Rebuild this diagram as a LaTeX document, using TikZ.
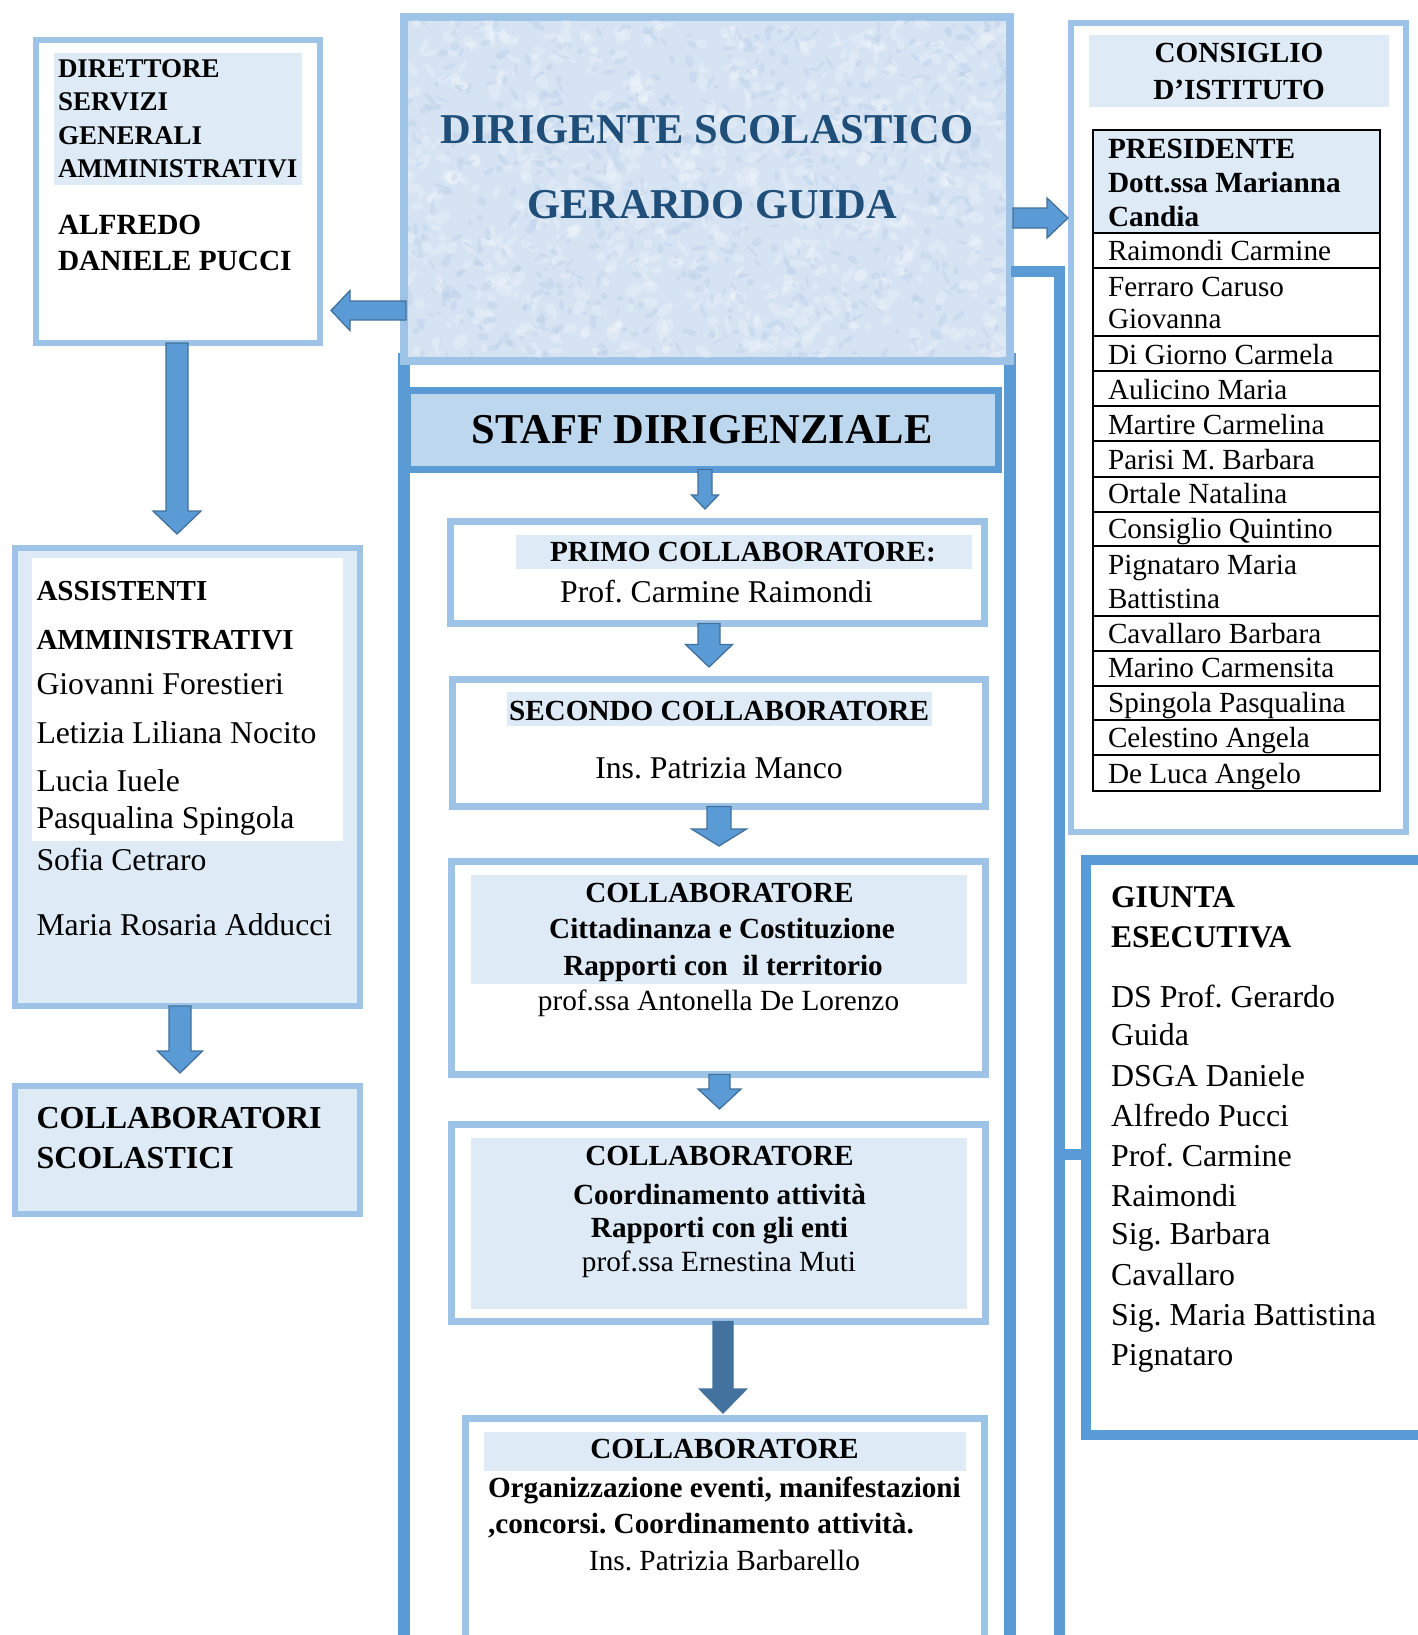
\documentclass[tikz,border=0pt]{standalone}
\usepackage{fontspec}
\setmainfont{Liberation Serif}
\usetikzlibrary{calc}
\frenchspacing
\definecolor{lborder}{HTML}{9DC3E6}
\definecolor{mblue}{HTML}{5B9BD5}
\definecolor{aedge}{HTML}{41719C}
\definecolor{lfill}{HTML}{DEEBF7}
\definecolor{hfill}{HTML}{BDD7EE}
\definecolor{dtext}{HTML}{1F4E79}
\definecolor{dfill}{HTML}{D5E3F3}
\definecolor{speck}{HTML}{B9CEE8}
\definecolor{darrow}{HTML}{44729E}
\newcommand\fsz[1]{\fontsize{#1}{#1}\selectfont}
% box node from path corners
\newcommand\bx[6][]{\node[box,#1,minimum width={#4-#2},minimum height={#5-#3}] (#6) at ({(#2+#4)/2},{(#3+#5)/2}) {};}
% text line nodes
\newcounter{tl}
\newcommand\tx[4][]{\stepcounter{tl}\node[txt,#1] (t\arabic{tl}) at (#2,#3) {#4};}
% block arrows: #2 start, #3 tip, #4 shaft half, #5 head half, #6 head length
\newcommand\varw[6][]{\path[barrow,#1] let \p1=#2, \p2=#3 in
 (\x2-#4,\y1) -- (\x2+#4,\y1) -- (\x2+#4,\y2+#6) -- (\x2+#5,\y2+#6) -- (\x2,\y2) -- (\x2-#5,\y2+#6) -- (\x2-#4,\y2+#6) -- cycle;}
\newcommand\larw[6][]{\path[barrow,#1] let \p1=#2, \p2=#3 in
 (\x1,\y2+#4) -- (\x2+#6,\y2+#4) -- (\x2+#6,\y2+#5) -- (\x2,\y2) -- (\x2+#6,\y2-#5) -- (\x2+#6,\y2-#4) -- (\x1,\y2-#4) -- cycle;}
\newcommand\rarw[6][]{\path[barrow,#1] let \p1=#2, \p2=#3 in
 (\x1,\y2+#4) -- (\x2-#6,\y2+#4) -- (\x2-#6,\y2+#5) -- (\x2,\y2) -- (\x2-#6,\y2-#5) -- (\x2-#6,\y2-#4) -- (\x1,\y2-#4) -- cycle;}
\begin{document}
\begin{tikzpicture}[x=1pt,y=-1pt,
  box/.style={draw,inner sep=0pt,outer sep=0pt},
  lbox/.style={draw=lborder,line width=6pt},
  cbox/.style={draw=lborder,line width=7pt,fill=white},
  txt/.style={inner sep=0pt,outer sep=0pt,anchor=base west},
  ctr/.style={anchor=base},
  barrow/.style={fill=mblue,draw=aedge,line width=1.3pt,line join=miter},
  darr/.style={fill=darrow,draw=darrow},
  conn/.style={draw=mblue,line width=11pt,line join=miter},
  tline/.style={draw=black,line width=2pt},
  hb/.style={font=\bfseries\fsz{29.2}},
  hr/.style={font=\fsz{31.7}},
  hs/.style={font=\fsz{29.3}},
  nm/.style={font=\fsz{29.2}},
  an/.style={font=\fsz{31.7}},
  gn/.style={font=\fsz{31.9}}]
\useasboundingbox (0,0) rectangle (1418,1635);
\fill[white] (0,0) rectangle (1418,1635);

% ---------- staff frame (open at the bottom) ----------
\bx[draw=mblue,line width=11.5pt]{404}{359}{1010}{1720}{staff}

% ---------- Dirigente ----------
\bx[draw=lborder,line width=8pt,fill=dfill]{404}{17}{1010}{361}{dir}
\begin{scope}
\clip (408,21) rectangle (1006,357);
\pgfmathsetseed{42}
\foreach \i in {1,...,700}{\pgfmathsetmacro\rx{408+598*rnd}\pgfmathsetmacro\ry{21+336*rnd}\pgfmathsetmacro\ra{3+7*rnd}\pgfmathsetmacro\rb{2+4*rnd}\pgfmathsetmacro\rt{180*rnd}\fill[white,opacity=0.22,rotate around={\rt:(\rx,\ry)}] (\rx,\ry) ellipse [x radius=\ra, y radius=\rb];}
\foreach \i in {1,...,700}{\pgfmathsetmacro\rx{408+598*rnd}\pgfmathsetmacro\ry{21+336*rnd}\pgfmathsetmacro\ra{2+6*rnd}\pgfmathsetmacro\rb{1+3*rnd}\pgfmathsetmacro\rt{180*rnd}\fill[speck,opacity=0.35,rotate around={\rt:(\rx,\ry)}] (\rx,\ry) ellipse [x radius=\ra, y radius=\rb];}
\end{scope}
\tx[ctr,text=dtext,font=\bfseries\fsz{42.5}]{707}{143}{DIRIGENTE SCOLASTICO}
\tx[ctr,text=dtext,font=\bfseries\fsz{42.5}]{712}{218}{GERARDO GUIDA}

% ---------- DSGA ----------
\bx[lbox,fill=white]{36}{40.5}{320}{343}{dsga}
\fill[lfill] (54,53) rectangle (302,185);
\tx[font=\bfseries\fsz{27}]{58}{78}{DIRETTORE}
\tx[font=\bfseries\fsz{27}]{58}{111}{SERVIZI}
\tx[font=\bfseries\fsz{27}]{58}{144}{GENERALI}
\tx[font=\bfseries\fsz{27}]{58}{177}{AMMINISTRATIVI}
\tx[font=\bfseries\fsz{29.3}]{58}{234}{ALFREDO}
\tx[font=\bfseries\fsz{29.3}]{58}{270}{DANIELE PUCCI}

% ---------- Assistenti ----------
\bx[lbox,fill=lfill]{15}{548}{360}{1006}{assist}
\fill[white] (32,558) rectangle (343,841);
\tx[font=\bfseries\fsz{29}]{36.5}{600}{ASSISTENTI}
\tx[font=\bfseries\fsz{29}]{36.5}{649}{AMMINISTRATIVI}
\tx[an]{36.5}{694}{Giovanni Forestieri}
\tx[an]{36.5}{743}{Letizia Liliana Nocito}
\tx[an]{36.5}{791}{Lucia Iuele}
\tx[an]{36.5}{828}{Pasqualina Spingola}
\tx[an]{36.5}{870}{Sofia Cetraro}
\tx[an]{36.5}{935}{Maria Rosaria Adducci}

% ---------- Collaboratori scolastici ----------
\bx[lbox,fill=lfill]{15}{1086}{360}{1214}{collsc}
\tx[font=\bfseries\fsz{32}]{36.5}{1128}{COLLABORATORI}
\tx[font=\bfseries\fsz{32}]{36.5}{1168}{SCOLASTICI}

% ---------- Staff header ----------
\bx[draw=mblue,line width=7pt,fill=hfill]{407.5}{390.5}{998.5}{469.5}{hdr}
\tx[ctr,font=\bfseries\fsz{42.5}]{702}{443}{STAFF DIRIGENZIALE}

% ---------- Collaboratori staff ----------
\bx[cbox]{450.5}{521}{984.5}{623.5}{primo}
\fill[lfill] (516,535) rectangle (972,569);
\tx[ctr,hb]{743}{561.5}{PRIMO COLLABORATORE:}
\tx[ctr,hr]{716.5}{602}{Prof. Carmine Raimondi}

\bx[cbox]{452}{679.5}{985.5}{806.5}{sec}
\fill[lfill] (506.5,692) rectangle (932,726);
\tx[ctr,hb]{719}{720}{SECONDO COLLABORATORE}
\tx[ctr,hr]{719}{778.5}{Ins. Patrizia Manco}

\bx[cbox]{451.5}{861.5}{985.5}{1074.5}{c3}
\fill[lfill] (470.6,875) rectangle (967,984);
\tx[ctr,hb]{719.5}{902}{COLLABORATORE}
\tx[ctr,hb]{722}{938.5}{Cittadinanza e Costituzione}
\tx[ctr,hb]{723}{975}{Rapporti con~ il territorio}
\tx[ctr,hs]{718.5}{1010}{prof.ssa Antonella De Lorenzo}

\bx[cbox]{451.5}{1124}{985.5}{1321.5}{c4}
\fill[lfill] (470.6,1138) rectangle (967,1308.6);
\tx[ctr,hb]{719.5}{1165.6}{COLLABORATORE}
\tx[ctr,hb]{719.5}{1204}{Coordinamento attività}
\tx[ctr,hb]{719.5}{1237}{Rapporti con gli enti}
\tx[ctr,hs]{719}{1271}{prof.ssa Ernestina Muti}

\bx[cbox]{465}{1418}{984.5}{1720}{c5}
\fill[lfill] (484,1431.5) rectangle (966,1470.7);
\tx[ctr,hb]{724.5}{1458.6}{COLLABORATORE}
\tx[hb]{488}{1497.5}{Organizzazione eventi, manifestazioni}
\tx[hb]{488}{1533}{,concorsi. Coordinamento attività.}
\tx[ctr,hs]{724.5}{1570.5}{Ins. Patrizia Barbarello}

% ---------- Consiglio d'istituto ----------
\bx[lbox,fill=white]{1071}{23}{1406}{831.5}{cons}
\fill[lfill] (1089,35) rectangle (1389,107);
\tx[ctr,hb]{1239}{63}{CONSIGLIO}
\tx[ctr,hb]{1239}{100}{D’ISTITUTO}
\fill[lfill] (1093,129.6) rectangle (1380,233);
\bx[tline]{1093}{129.6}{1380}{790.6}{tab}
\foreach \yy in {233,268,336.4,370.6,406,441.4,476.7,511.5,546.3,616,650.8,685.6,720.4,755.2}
  \draw[tline] (tab.west |- 0,\yy) -- (tab.east |- 0,\yy);
\tx[font=\bfseries\fsz{29.3}]{1108}{158}{PRESIDENTE}
\tx[font=\bfseries\fsz{29.3}]{1108}{192}{Dott.ssa Marianna}
\tx[font=\bfseries\fsz{29.3}]{1108}{226}{Candia}
\tx[nm]{1108}{260}{Raimondi Carmine}
\tx[nm]{1108}{296}{Ferraro Caruso}
\tx[nm]{1108}{328}{Giovanna}
\tx[nm]{1108}{364}{Di Giorno Carmela}
\tx[nm]{1108}{399}{Aulicino Maria}
\tx[nm]{1108}{434}{Martire Carmelina}
\tx[nm]{1108}{469}{Parisi M. Barbara}
\tx[nm]{1108}{503.5}{Ortale Natalina}
\tx[nm]{1108}{538}{Consiglio Quintino}
\tx[nm]{1108}{574}{Pignataro Maria}
\tx[nm]{1108}{608}{Battistina}
\tx[nm]{1108}{643}{Cavallaro Barbara}
\tx[nm]{1108}{677.5}{Marino Carmensita}
\tx[nm]{1108}{712}{Spingola Pasqualina}
\tx[nm]{1108}{747}{Celestino Angela}
\tx[nm]{1108}{783}{De Luca Angelo}

% ---------- Giunta esecutiva ----------
\bx[draw=mblue,line width=10pt,fill=white]{1086}{859.6}{1424}{1435}{giunta}
\tx[font=\bfseries\fsz{31.6}]{1111}{907}{GIUNTA}
\tx[font=\bfseries\fsz{31.6}]{1111}{947}{ESECUTIVA}
\tx[gn]{1111}{1007}{DS Prof. Gerardo}
\tx[gn]{1111}{1045.6}{Guida}
\tx[gn]{1111}{1086.7}{DSGA Daniele}
\tx[gn]{1111}{1126.7}{Alfredo Pucci}
\tx[gn]{1111}{1166}{Prof. Carmine}
\tx[gn]{1111}{1206}{Raimondi}
\tx[gn]{1111}{1244.8}{Sig. Barbara}
\tx[gn]{1111}{1285}{Cavallaro}
\tx[gn]{1111}{1325}{Sig. Maria Battistina}
\tx[gn]{1111}{1365}{Pignataro}

% ---------- connector Dirigente -> Giunta ----------
\coordinate (cbot) at (1059,1660);
\draw[conn] ($(dir.east |- 0,271)+(1,0)$) -| (cbot);
\draw[conn] (cbot |- 0,1154.5) -- (giunta.west |- 0,1154.5);

% ---------- block arrows ----------
\larw{($(dir.west)+(2,121.5)$)}{($(dsga.east)+(11,118.75)$)}{9.5pt}{20pt}{19pt}
\rarw{($(dir.east)+(3,29)$)}{($(cons.west)+(-3,-209.25)$)}{10pt}{20pt}{21pt}
\varw{($(dsga.south)+(-1,0)$)}{($(assist.north)+(-10.5,-14)$)}{11pt}{24pt}{23pt}
\varw{($(assist.south)+(-7.5,0)$)}{($(collsc.north)+(-7.5,-13)$)}{11pt}{22.5pt}{22pt}
\varw{($(hdr.south)+(2,0)$)}{($(primo.north)+(-12.5,-12)$)}{7pt}{13.5pt}{14pt}
\varw{($(primo.south)+(-8.5,0)$)}{($(sec.north)+(-9.75,-12.5)$)}{11pt}{23.5pt}{22.5pt}
\varw{($(sec.south)+(0.25,0)$)}{($(c3.north)+(0.5,-15.5)$)}{12pt}{27.5pt}{17pt}
\varw{($(c3.south)+(1,0)$)}{($(c4.north)+(1,-15)$)}{10.5pt}{21.5pt}{20pt}
\varw[darr]{($(c4.south)+(4.5,0)$)}{($(c5.north)+(-1.75,-5)$)}{10pt}{23.5pt}{24pt}
\end{tikzpicture}
\end{document}
